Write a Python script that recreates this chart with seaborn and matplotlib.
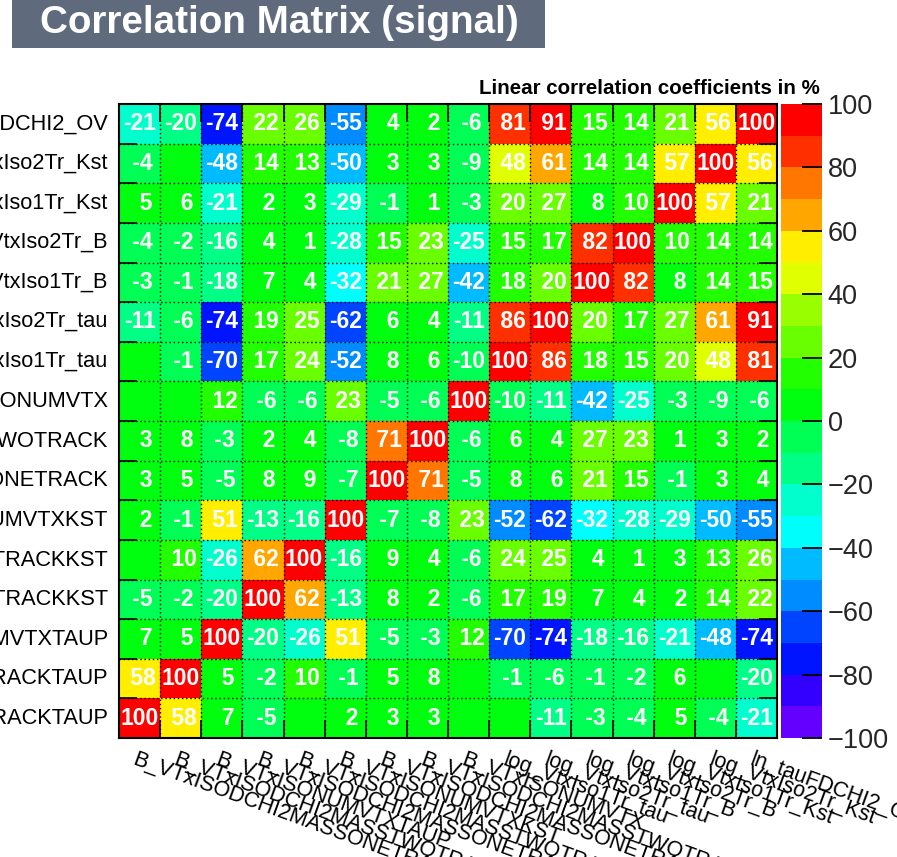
import colorsys

import numpy as np
import pandas as pd
import matplotlib
matplotlib.use("Agg")
import matplotlib.pyplot as plt
from matplotlib.colors import ListedColormap
from matplotlib.patches import Rectangle
import seaborn as sns

# Input variables, in histogram bin order (bin 1 = bottom row / left column)
variables = [
    "B_VTxISODCHI2MASSONETRACKTAUP",
    "B_VTxISODCHI2MASSTWOTRACKTAUP",
    "B_VTxISONUMVTXTAUP",
    "B_VTxISODCHI2MASSONETRACKKST",
    "B_VTxISODCHI2MASSTWOTRACKKST",
    "B_VTxISONUMVTXKST",
    "B_VTxISODCHI2MASSONETRACK",
    "B_VTxISODCHI2MASSTWOTRACK",
    "B_VTxISONUMVTX",
    "log_VtxIso1Tr_tau",
    "log_VtxIso2Tr_tau",
    "log_VtxIso1Tr_B",
    "log_VtxIso2Tr_B",
    "log_VtxIso1Tr_Kst",
    "log_VtxIso2Tr_Kst",
    "ln_tauFDCHI2_OV",
]

# Linear correlation coefficients in %, one list per row, top row first
corr_rows = [
    [-21, -20, -74, 22, 26, -55, 4, 2, -6, 81, 91, 15, 14, 21, 56, 100],
    [-4, 0, -48, 14, 13, -50, 3, 3, -9, 48, 61, 14, 14, 57, 100, 56],
    [5, 6, -21, 2, 3, -29, -1, 1, -3, 20, 27, 8, 10, 100, 57, 21],
    [-4, -2, -16, 4, 1, -28, 15, 23, -25, 15, 17, 82, 100, 10, 14, 14],
    [-3, -1, -18, 7, 4, -32, 21, 27, -42, 18, 20, 100, 82, 8, 14, 15],
    [-11, -6, -74, 19, 25, -62, 6, 4, -11, 86, 100, 20, 17, 27, 61, 91],
    [0, -1, -70, 17, 24, -52, 8, 6, -10, 100, 86, 18, 15, 20, 48, 81],
    [0, 0, 12, -6, -6, 23, -5, -6, 100, -10, -11, -42, -25, -3, -9, -6],
    [3, 8, -3, 2, 4, -8, 71, 100, -6, 6, 4, 27, 23, 1, 3, 2],
    [3, 5, -5, 8, 9, -7, 100, 71, -5, 8, 6, 21, 15, -1, 3, 4],
    [2, -1, 51, -13, -16, 100, -7, -8, 23, -52, -62, -32, -28, -29, -50, -55],
    [0, 10, -26, 62, 100, -16, 9, 4, -6, 24, 25, 4, 1, 3, 13, 26],
    [-5, -2, -20, 100, 62, -13, 8, 2, -6, 17, 19, 7, 4, 2, 14, 22],
    [7, 5, 100, -20, -26, 51, -5, -3, 12, -70, -74, -18, -16, -21, -48, -74],
    [58, 100, 5, -2, 10, -1, 5, 8, 0, -1, -6, -1, -2, 6, 0, -20],
    [100, 58, 7, -5, 0, 2, 3, 3, 0, 0, -11, -3, -4, 5, -4, -21],
]

colorbar_ticks = [-100, -80, -60, -40, -20, 0, 20, 40, 60, 80, 100]

# Pretty "violet -> red" spectrum (HLS, l=0.5, s=1), 20 contour levels
n_levels = 20
level_colors = []
for k in range(n_levels):
    idx = int((k + 0.99) * 50 / n_levels)
    hue = 280.0 - (idx + 1) * 5.6
    level_colors.append(colorsys.hls_to_rgb(hue / 360.0, 0.5, 1.0))
cmap = ListedColormap(level_colors)

row_names = variables[::-1]
corr = pd.DataFrame(corr_rows, index=row_names, columns=variables)
cell_text = np.array([["" if v == 0 else f"{v:3d}" for v in row] for row in corr_rows])

sns.set_theme(style="white")
plt.rcParams["font.family"] = ["Liberation Sans", "DejaVu Sans"]
plt.rcParams["axes.axisbelow"] = False

W, H = 897, 857
fig = plt.figure(figsize=(W / 100, H / 100), dpi=100)
fig.patch.set_facecolor("white")

x0, x1, y0, y1 = 119, 777, 104, 738
ax = fig.add_axes([x0 / W, 1 - y1 / H, (x1 - x0) / W, (y1 - y0) / H])
cax = fig.add_axes([781 / W, 1 - y1 / H, 41 / W, (y1 - y0) / H])

sns.heatmap(
    corr, ax=ax, cbar_ax=cax, cmap=cmap, vmin=-100, vmax=100,
    annot=cell_text, fmt="",
    annot_kws=dict(color="white", fontsize=16.5, fontweight="bold"),
    linewidths=0, xticklabels=False, yticklabels=True,
)
ax.set_axisbelow(False)
cax.set_axisbelow(False)

# dotted grid at the bin edges
for i in range(1, 16):
    ax.axvline(i, color="black", lw=1.0, ls=(0, (1, 2)))
    ax.axhline(i, color="black", lw=1.0, ls=(0, (1, 2)))

for s in ax.spines.values():
    s.set_visible(True)
    s.set_color("black")
    s.set_linewidth(1.5)

edges = np.arange(17)
ax.set_xticks(edges, minor=True)
ax.set_yticks(edges, minor=True)
ax.tick_params(which="minor", direction="in", length=13, width=1.2, color="black",
               bottom=True, top=True, left=True, right=True)
ax.tick_params(which="major", length=0, left=True, bottom=False)
ax.tick_params(axis="y", which="major", labelsize=15.7, pad=8, labelcolor="black")
for lab in ax.get_yticklabels():
    lab.set_rotation(0)

# slanted variable names under the matrix
trans = ax.get_xaxis_transform()
for j, name in enumerate(variables):
    ax.text(j + 0.45, -0.018, name, transform=trans, rotation=-20,
            rotation_mode="anchor", ha="left", va="top", fontsize=15.5,
            color="black", clip_on=False)

# colour scale
cbar = ax.collections[0].colorbar
cbar.outline.set_visible(False)
cbar.set_ticks(colorbar_ticks)
cbar.ax.yaxis.set_ticks_position("right")
cbar.ax.yaxis.set_tick_params(which="major", direction="in", length=14.4, width=1.3,
                              color="black", labelsize=19.5, pad=4,
                              right=True, left=False, labelright=True)
cbar.ax.minorticks_off()

# header box
fig.patches.append(Rectangle((12 / W, 1 - 48 / H), 533 / W, 48 / H,
                             transform=fig.transFigure, facecolor="#5f6b7d",
                             edgecolor="none", zorder=0))
fig.text(279 / W, 1 - 23 / H, "Correlation Matrix (signal)", color="white",
         fontsize=27.8, fontweight="bold", ha="center", va="center")

fig.text(820 / W, 1 - 89 / H, "Linear correlation coefficients in %",
         fontsize=14.8, fontweight="bold", ha="right", va="center", color="black")

fig.savefig("out.png", dpi=100)
